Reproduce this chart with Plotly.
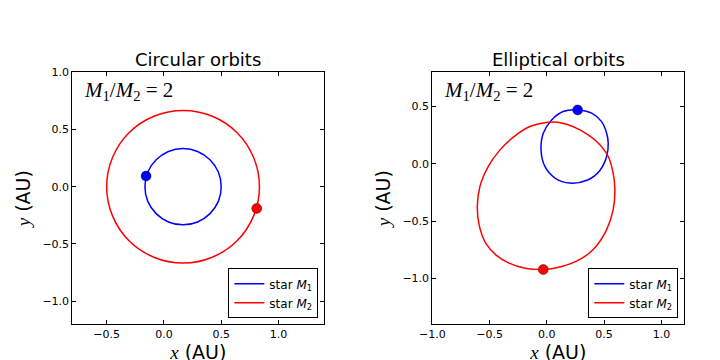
import plotly.graph_objects as go

# ---- Circular orbits ----
circ_m1_x = [0.500, 0.475, 0.402, 0.294, 0.167, 0.039, -0.068, -0.141, -0.166, -0.141, -0.068, 0.039, 0.167, 0.294, 0.402, 0.475, 0.500]
circ_m1_y = [0.000, 0.128, 0.235, 0.308, 0.333, 0.308, 0.235, 0.128, 0.000, -0.128, -0.235, -0.308, -0.333, -0.308, -0.235, -0.128, 0.000]
circ_m2_x = [0.834, 0.783, 0.639, 0.422, 0.167, -0.088, -0.305, -0.449, -0.500, -0.449, -0.305, -0.088, 0.167, 0.422, 0.639, 0.783, 0.834]
circ_m2_y = [0.000, 0.255, 0.472, 0.616, 0.667, 0.616, 0.472, 0.255, 0.000, -0.255, -0.472, -0.616, -0.667, -0.616, -0.472, -0.255, 0.000]
circ_dot_m1 = [-0.156, 0.093]
circ_dot_m2 = [0.810, -0.190]

# ---- Elliptical orbits ----
ell_m1_x = [0.265, 0.391, 0.478, 0.522, 0.536, 0.522, 0.463, 0.361, 0.202, 0.071, -0.017, -0.051, -0.031, 0.042, 0.143, 0.265]
ell_m1_y = [0.471, 0.443, 0.369, 0.268, 0.181, 0.064, -0.058, -0.139, -0.168, -0.124, -0.023, 0.123, 0.268, 0.384, 0.457, 0.471]
ell_m2_x = [-0.031, -0.190, -0.330, -0.440, -0.530, -0.590, -0.607, -0.584, -0.511, -0.409, -0.290, -0.147, 0.070, 0.190, 0.289, 0.435, 0.536, 0.579, 0.594, 0.579, 0.522, 0.405, 0.260, 0.086, -0.031]
ell_m2_y = [-0.924, -0.912, -0.868, -0.800, -0.700, -0.540, -0.372, -0.197, -0.023, 0.122, 0.235, 0.326, 0.366, 0.340, 0.297, 0.195, 0.064, -0.081, -0.226, -0.401, -0.575, -0.749, -0.851, -0.909, -0.924]
ell_dot_m1 = [0.269, 0.471]
ell_dot_m2 = [-0.031, -0.924]

titles = ["Circular orbits", "Elliptical orbits"]
legend_names = ["star <i>M</i><sub>1</sub>", "star <i>M</i><sub>2</sub>"]

BLUE = "#0000ff"
RED = "#ff0000"
FONT = "DejaVu Sans"
SERIF = "Liberation Serif"

fig = go.Figure()

panels = [
    ("x", "y", "legend", circ_m1_x, circ_m1_y, circ_m2_x, circ_m2_y, circ_dot_m1, circ_dot_m2),
    ("x2", "y2", "legend2", ell_m1_x, ell_m1_y, ell_m2_x, ell_m2_y, ell_dot_m1, ell_dot_m2),
]

for xa, ya, leg, m1x, m1y, m2x, m2y, d1, d2 in panels:
    fig.add_trace(go.Scatter(x=m1x, y=m1y, mode="lines", line=dict(color=BLUE, width=1.5, shape="spline", smoothing=1.0),
                             name=legend_names[0], xaxis=xa, yaxis=ya, legend=leg))
    fig.add_trace(go.Scatter(x=m2x, y=m2y, mode="lines", line=dict(color=RED, width=1.5, shape="spline", smoothing=1.0),
                             name=legend_names[1], xaxis=xa, yaxis=ya, legend=leg))
    fig.add_trace(go.Scatter(x=[d1[0]], y=[d1[1]], mode="markers", showlegend=False,
                             marker=dict(color=BLUE, size=10, line=dict(color="rgba(0,0,0,0.5)", width=0.8)),
                             xaxis=xa, yaxis=ya))
    fig.add_trace(go.Scatter(x=[d2[0]], y=[d2[1]], mode="markers", showlegend=False,
                             marker=dict(color=RED, size=10, line=dict(color="rgba(0,0,0,0.5)", width=0.8)),
                             xaxis=xa, yaxis=ya))

axis_common = dict(showline=True, linecolor="black", linewidth=1, mirror="ticks", ticks="inside",
                   ticklen=4, tickcolor="black", showgrid=False, zeroline=False, dtick=0.5, tick0=0,
                   tickformat=".1f", automargin=False, tickfont=dict(family=FONT, size=11, color="black"))

xtitle = dict(text=f"<span style='font-family:{SERIF}'><i>x</i></span> (AU)", font=dict(family=FONT, size=19, color="black"), standoff=4)
ytitle = dict(text=f"<span style='font-family:{SERIF}'><i>y</i></span> (AU)", font=dict(family=FONT, size=19, color="black"), standoff=6)

# page body has an 8px margin; domains compensate for it
fig.update_layout(
    width=720, height=360,
    margin=dict(l=0, r=0, t=0, b=0),
    paper_bgcolor="white", plot_bgcolor="white",
    font=dict(family=FONT, color="black"),
    xaxis=dict(domain=[0.0893, 0.4393], range=[-0.8, 1.4], anchor="y", title=xtitle, **axis_common),
    yaxis=dict(domain=[0.1222, 0.8214], range=[-1.2, 1.0], anchor="x", title=ytitle, **axis_common),
    xaxis2=dict(domain=[0.5893, 0.9393], range=[-1.0, 1.2], anchor="y2", title=xtitle, **axis_common),
    yaxis2=dict(domain=[0.1222, 0.8214], range=[-1.4, 0.8], anchor="x2", title=ytitle, **axis_common),
    legend=dict(x=0.431, y=0.138, xanchor="right", yanchor="bottom", bordercolor="black", borderwidth=1,
                bgcolor="white", font=dict(family=FONT, size=12), itemwidth=30, tracegroupgap=2),
    legend2=dict(x=0.931, y=0.138, xanchor="right", yanchor="bottom", bordercolor="black", borderwidth=1,
                 bgcolor="white", font=dict(family=FONT, size=12), itemwidth=30, tracegroupgap=2),
)

annotations = []
for i, (xa, ya) in enumerate([("x", "y"), ("x2", "y2")]):
    annotations.append(dict(text=titles[i], xref=f"{xa} domain", yref=f"{ya} domain", x=0.5, y=1.0,
                            xanchor="center", yanchor="bottom", yshift=0, showarrow=False,
                            font=dict(family=FONT, size=18, color="black")))
    annotations.append(dict(text="<i>M</i><sub>1</sub>/<i>M</i><sub>2</sub> = 2", xref=f"{xa} domain", yref=f"{ya} domain",
                            x=0.04, y=0.925, xanchor="left", yanchor="middle", showarrow=False,
                            font=dict(family=SERIF, size=21, color="black")))
fig.update_layout(annotations=annotations)

fig.write_html("out.html")
